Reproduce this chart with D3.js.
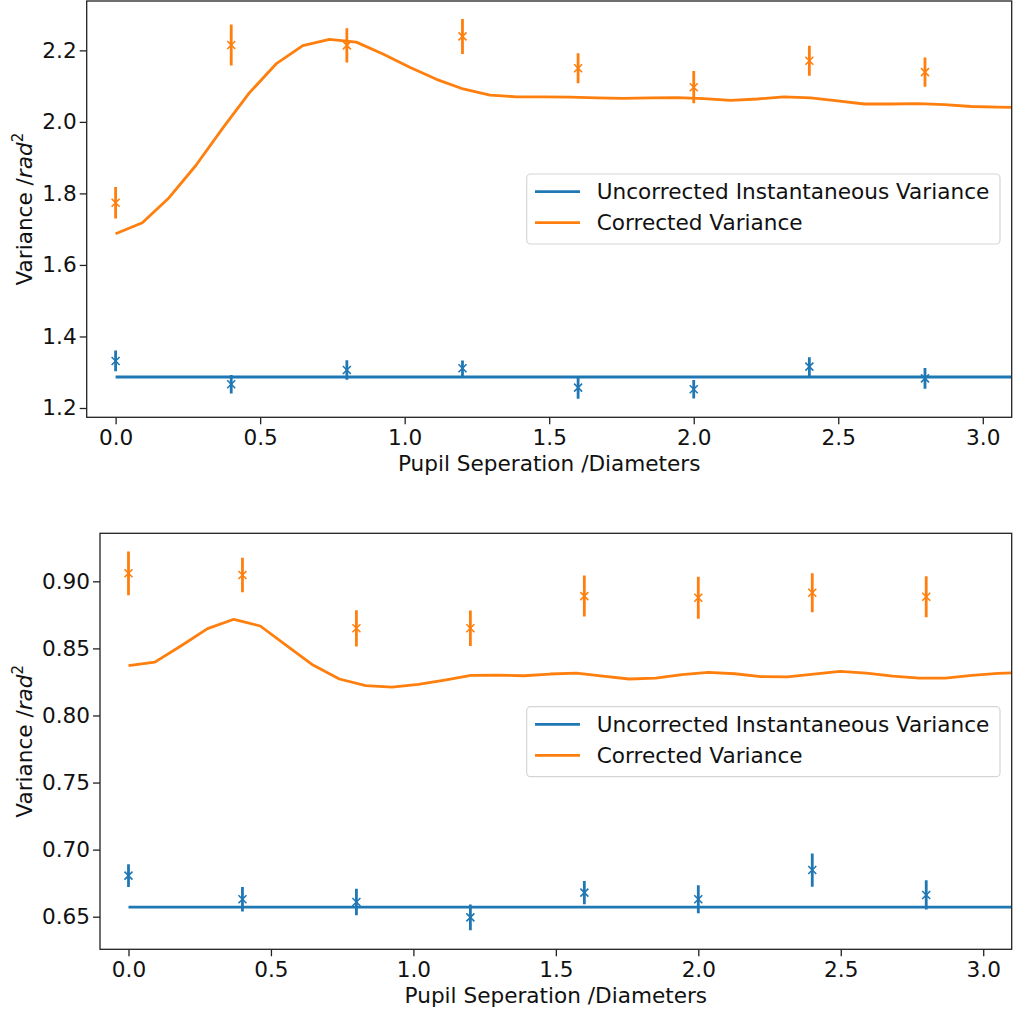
<!DOCTYPE html>
<html>
<head>
<meta charset="utf-8">
<script src="https://cdn.jsdelivr.net/npm/d3@7"></script>
<style>
  html, body { margin: 0; padding: 0; background: #fff; }
  svg { display: block; font-family: "DejaVu Sans", sans-serif; }
</style>
</head>
<body>
<svg id="chart" width="1017" height="1013"></svg>
<script>
// ---------------- DATA ----------------
const seriesNames = ["Uncorrected Instantaneous Variance", "Corrected Variance"];

// measurement positions (pupil separation, diameters)
const sepX = [0.0, 0.4, 0.8, 1.2, 1.6, 2.0, 2.4, 2.8];

// model curve x positions
const curveX = [0, 0.0925, 0.185, 0.2775, 0.37, 0.4625, 0.555, 0.6475, 0.74, 0.8325,
  0.925, 1.0175, 1.11, 1.2025, 1.295, 1.3875, 1.48, 1.5725, 1.665, 1.7575,
  1.85, 1.9425, 2.035, 2.1275, 2.22, 2.3125, 2.405, 2.4975, 2.59, 2.6825,
  2.775, 2.8675, 2.96, 3.0525, 3.145];

// ---- top panel ----
const topCorrCurve = [1.687, 1.718, 1.788, 1.878, 1.982, 2.081, 2.162, 2.213, 2.231, 2.223,
  2.190, 2.153, 2.119, 2.092, 2.075, 2.070, 2.070, 2.069, 2.067, 2.066,
  2.067, 2.068, 2.065, 2.060, 2.064, 2.070, 2.067, 2.059, 2.050, 2.050,
  2.051, 2.048, 2.043, 2.041, 2.040];
const topUncorrLineX = [0, 3.2];
const topUncorrLine = [1.2867, 1.2867];
const topCorrPts = [1.774, 2.215, 2.214, 2.239, 2.150, 2.097, 2.171, 2.139];
const topCorrErr = [0.044, 0.057, 0.048, 0.049, 0.042, 0.045, 0.042, 0.041];
const topUncorrPts = [1.3315, 1.2663, 1.3063, 1.311, 1.2568, 1.2523, 1.3156, 1.283];
const topUncorrErr = [0.029, 0.026, 0.027, 0.022, 0.031, 0.026, 0.026, 0.029];
const topYTicks = [1.2, 1.4, 1.6, 1.8, 2.0, 2.2];

// ---- bottom panel ----
const botCorrCurve = [0.8371, 0.8398, 0.8520, 0.8647, 0.8717, 0.8667, 0.8520, 0.8376, 0.8272, 0.8222,
  0.8212, 0.8232, 0.8264, 0.8299, 0.8301, 0.8296, 0.8309, 0.8316, 0.8294, 0.8272,
  0.8279, 0.8304, 0.8322, 0.8311, 0.8289, 0.8287, 0.8309, 0.8329, 0.8316, 0.8294,
  0.8279, 0.8279, 0.8299, 0.8314, 0.8320];
const botUncorrLineX = [0, 3.2];
const botUncorrLine = [0.6572, 0.6572];
const botCorrPts = [0.906, 0.9047, 0.865, 0.865, 0.889, 0.8878, 0.8915, 0.8885];
const botCorrErr = [0.0163, 0.0129, 0.0135, 0.0132, 0.0153, 0.0157, 0.0145, 0.0153];
const botUncorrPts = [0.6806, 0.6630, 0.6610, 0.6495, 0.6679, 0.6630, 0.6848, 0.6662];
const botUncorrErr = [0.0085, 0.0091, 0.0099, 0.0096, 0.0087, 0.0104, 0.0124, 0.0109];
const botYTicks = [0.65, 0.70, 0.75, 0.80, 0.85, 0.90];

const xTicks = [0.0, 0.5, 1.0, 1.5, 2.0, 2.5, 3.0];
const xLabel = "Pupil Seperation /Diameters";

// ---------------- STYLE ----------------
const BLUE = "#1f77b4", ORANGE = "#ff7f0e";
const FONT = 21.6;

const svg = d3.select("#chart");

function panel(cfg) {
  const { box, xDomain, yDomain, yTicks, yFmt, id } = cfg;
  const x = d3.scaleLinear().domain(xDomain).range([box.left, box.right]);
  const y = d3.scaleLinear().domain(yDomain).range([box.bottom, box.top]);
  const g = svg.append("g");

  g.append("clipPath").attr("id", id).append("rect")
    .attr("x", box.left).attr("y", box.top)
    .attr("width", box.right - box.left).attr("height", box.bottom - box.top);

  const plot = g.append("g").attr("clip-path", `url(#${id})`);
  const line = d3.line().x(d => x(d[0])).y(d => y(d[1]));

  // model lines
  plot.append("path").datum(d3.zip(cfg.uncorrLineX, cfg.uncorrLine))
    .attr("d", line).attr("fill", "none").attr("stroke", BLUE).attr("stroke-width", 2.8);
  plot.append("path").datum(d3.zip(curveX, cfg.corrCurve))
    .attr("d", line).attr("fill", "none").attr("stroke", ORANGE).attr("stroke-width", 2.8)
    .attr("stroke-linejoin", "round");

  // error bars + x markers
  function errSeries(vals, errs, color) {
    const data = sepX.map((sx, i) => ({ x: sx, v: vals[i], e: errs[i] }));
    plot.selectAll(null).data(data).enter().append("line")
      .attr("x1", d => x(d.x)).attr("x2", d => x(d.x))
      .attr("y1", d => y(d.v - d.e)).attr("y2", d => y(d.v + d.e))
      .attr("stroke", color).attr("stroke-width", 2.8);
    const s = 4;
    plot.selectAll(null).data(data).enter().append("path")
      .attr("d", d => {
        const cx = x(d.x), cy = y(d.v);
        return `M${cx - s},${cy - s}L${cx + s},${cy + s}M${cx - s},${cy + s}L${cx + s},${cy - s}`;
      })
      .attr("stroke", color).attr("stroke-width", 1.6).attr("fill", "none");
  }
  errSeries(cfg.uncorrPts, cfg.uncorrErr, BLUE);
  errSeries(cfg.corrPts, cfg.corrErr, ORANGE);

  // axes
  const xAxis = d3.axisBottom(x).tickValues(xTicks).tickFormat(d3.format(".1f"))
    .tickSize(7).tickPadding(5.5);
  const yAxis = d3.axisLeft(y).tickValues(yTicks).tickFormat(d3.format(yFmt))
    .tickSize(7).tickPadding(3);
  const gx = g.append("g").attr("transform", `translate(0,${box.bottom})`).call(xAxis);
  const gy = g.append("g").attr("transform", `translate(${box.left},0)`).call(yAxis);
  [gx, gy].forEach(a => {
    a.select(".domain").remove();
    a.selectAll(".tick line").attr("stroke", "#222").attr("stroke-width", 1.3);
    a.selectAll(".tick text").attr("font-size", FONT).attr("fill", "#111")
      .attr("font-family", "DejaVu Sans");
  });

  // frame
  g.append("rect").attr("x", box.left).attr("y", box.top)
    .attr("width", box.right - box.left).attr("height", box.bottom - box.top)
    .attr("fill", "none").attr("stroke", "#222").attr("stroke-width", 1.3);

  // x label
  g.append("text").attr("x", (box.left + box.right) / 2).attr("y", cfg.xLabelY)
    .attr("text-anchor", "middle").attr("font-size", FONT).attr("fill", "#111")
    .text(xLabel);

  // y label
  const yl = g.append("text")
    .attr("transform", `translate(32,${(box.top + box.bottom) / 2}) rotate(-90)`)
    .attr("text-anchor", "middle").attr("font-size", FONT).attr("fill", "#111");
  yl.append("tspan").text("Variance /");
  yl.append("tspan").attr("font-style", "italic").text("rad");
  yl.append("tspan").attr("font-size", 15).attr("dy", "-0.6em").text("2");

  // legend
  const lg = g.append("g");
  const L = cfg.legend;
  lg.append("rect").attr("x", L.x).attr("y", L.y).attr("width", 473.3).attr("height", 70)
    .attr("rx", 4).attr("fill", "white").attr("fill-opacity", 0.8)
    .attr("stroke", "#d5d5d5").attr("stroke-width", 1.2);
  [BLUE, ORANGE].forEach((c, i) => {
    const ly = L.y + 17.7 + i * 31;
    lg.append("line").attr("x1", L.x + 8.3).attr("x2", L.x + 53.3)
      .attr("y1", ly).attr("y2", ly).attr("stroke", c).attr("stroke-width", 2.8);
    lg.append("text").attr("x", L.x + 70).attr("y", ly).attr("dy", "0.36em")
      .attr("font-size", FONT).attr("fill", "#111").text(seriesNames[i]);
  });
}

panel({
  id: "clipTop",
  box: { left: 86.7, right: 1011.7, top: 1, bottom: 417.3 },
  xDomain: [-0.1, 3.1], yDomain: [1.174, 2.338],
  yTicks: topYTicks, yFmt: ".1f",
  corrCurve: topCorrCurve, uncorrLineX: topUncorrLineX, uncorrLine: topUncorrLine,
  corrPts: topCorrPts, corrErr: topCorrErr, uncorrPts: topUncorrPts, uncorrErr: topUncorrErr,
  xLabelY: 471,
  legend: { x: 526.7, y: 174 }
});

panel({
  id: "clipBot",
  box: { left: 100, right: 1011.7, top: 533.3, bottom: 949.3 },
  xDomain: [-0.1, 3.1], yDomain: [0.6257, 0.9358],
  yTicks: botYTicks, yFmt: ".2f",
  corrCurve: botCorrCurve, uncorrLineX: botUncorrLineX, uncorrLine: botUncorrLine,
  corrPts: botCorrPts, corrErr: botCorrErr, uncorrPts: botUncorrPts, uncorrErr: botUncorrErr,
  xLabelY: 1002.5,
  legend: { x: 526.7, y: 706.7 }
});
</script>
</body>
</html>
